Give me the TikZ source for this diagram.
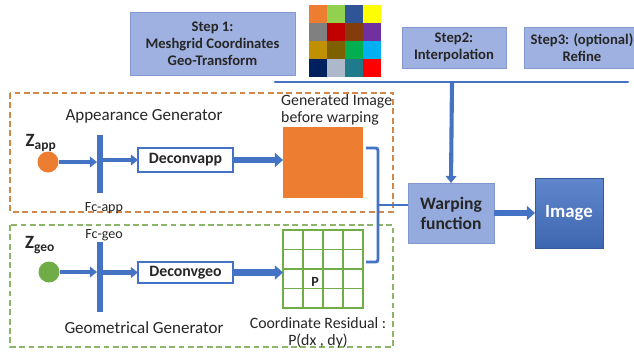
\documentclass[tikz,border=0pt]{standalone}
\usepackage{fontspec}
\setmainfont{Carlito}
\usetikzlibrary{arrows.meta,calc}
\definecolor{cblue}{HTML}{4472C4}
\definecolor{corange}{HTML}{ED7D31}
\definecolor{cgreen}{HTML}{70AD47}
\definecolor{stepfill}{HTML}{9FB1E0}
\definecolor{stepline}{HTML}{8398CF}
\definecolor{odash}{HTML}{D0894A}
\definecolor{gdash}{HTML}{8DB56A}
\definecolor{txt}{HTML}{262626}
\tikzset{
  sz/.style 2 args={minimum width={#1*0.03cm},minimum height={#2*0.03cm},inner sep=0pt,outer sep=0pt},
  stepbox/.style={draw=stepline,fill=stepfill,line width=0.6pt,align=center,font=\fontsize{12.5}{14.5}\selectfont\bfseries,text=txt},
  deconv/.style={draw=cblue,fill=white,line width=1.6pt,font=\fontsize{13.5}{15}\selectfont\bfseries,text=txt},
  fcbar/.style={fill=cblue,draw=none},
  lbl/.style={font=\fontsize{13.5}{14.5}\selectfont,text=txt,inner sep=0pt},
  biglbl/.style={font=\fontsize{14.5}{16}\selectfont,text=txt,inner sep=0pt},
  smlbl/.style={font=\fontsize{12}{13}\selectfont,text=txt,inner sep=0pt},
  zlbl/.style={font=\fontsize{16}{18}\selectfont\bfseries,text=txt,inner sep=0pt},
  thinarr/.style={draw=cblue,line width=3.5pt,-{Triangle[length=6pt,width=9pt]}},
  thickarr/.style={draw=cblue,line width=5.5pt,-{Triangle[length=7pt,width=12pt]}},
  conn/.style={draw=cblue,line width=2.5pt},
}
\begin{document}
\begin{tikzpicture}[x=0.03cm,y=-0.03cm]
\useasboundingbox (0,0) rectangle (634,351);
% top steps
\node (step1) [stepbox,sz={165}{63}] at (212.5,44) {Step 1:\\Meshgrid Coordinates\\Geo-Transform};
\node (cgrid) [sz={72}{72}] at (345,41) {};
\foreach \c [count=\i from 0] in {ED7D31,92D050,2F5597,FFFF00,808080,C00000,843C0C,7030A0,BF9000,7F6000,00B050,00B0F0,002060,ADB9CA,1F7A8C,FF0000}{
  \pgfmathtruncatemacro{\col}{mod(\i,4)}
  \pgfmathtruncatemacro{\row}{div(\i,4)}
  \definecolor{tmpc}{HTML}{\c}
  \fill[tmpc] (309+18*\col,5+18*\row) rectangle ++(18,18);
}
\node (step2) [stepbox,sz={104}{41}] at (454,47.5) {Step2:\\Interpolation};
\node (step3) [stepbox,sz={116}{41}] at (582,47.5) {Step3: (optional)\\Refine};
\coordinate (hl) at (275,82);
\coordinate (hr) at (628,82);
\coordinate (hm) at (452,82);
\draw[conn,line cap=round] (hl) -- (hr);
% dashed group boxes
\draw[odash,line width=1.2pt,dash pattern=on 5pt off 3pt] (10,93) rectangle (393,212);
\draw[gdash,line width=1.2pt,dash pattern=on 5pt off 3pt] (10,225) rectangle (393,347);
% warping & image
\node (warp) [draw=stepline,fill=stepfill!90!cblue,line width=0.8pt,sz={86}{60},align=center,font=\fontsize{15}{17}\selectfont\bfseries,text=txt] at (451,213) {Warping\\function};
\node (img) [draw=cblue!80!black,top color=cblue!85!white,bottom color=cblue!90!black,line width=0.6pt,sz={68}{70},font=\fontsize{16}{18}\selectfont\bfseries,text=white] at (569,213) {Image};
\draw[thinarr] (hm) -- (warp.north);
\draw[thickarr] (warp.east) -- (img.west);
% appearance generator
\node (apptitle) [biglbl] at (144,116) {Appearance Generator};
\node (zapp) [zlbl] at (41,143) {Z\textsubscript{\fontsize{11.5}{12}\selectfont app}};
\node (capp) [circle,fill=corange,minimum size=0.63cm,inner sep=0pt] at (48,162) {};
\node (fcapp) [fcbar,sz={6}{58}] at (100,164) {};
\node (fcapplbl) [smlbl] at (104,208) {Fc-app};
\node (dapp) [deconv,sz={95}{24}] at (185.5,160) {Deconvapp};
\node (sqapp) [fill=corange,sz={80}{71}] at (323,162.5) {};
\node (genlbl) [lbl,anchor=west,align=left] at (281,110) {Generated Image\\before warping};
\draw[thinarr] (capp.east) -- (fcapp.west |- capp.east);
\draw[thinarr] (fcapp.east |- dapp.west) -- (dapp.west);
\draw[thickarr] (dapp.east) -- (sqapp.west |- dapp.east);
% geometrical generator
\node (zgeo) [zlbl] at (40,245) {Z\textsubscript{\fontsize{11.5}{12}\selectfont geo}};
\node (cgeo) [circle,fill=cgreen,minimum size=0.63cm,inner sep=0pt] at (49,272) {};
\node (fcgeo) [fcbar,sz={6}{70}] at (100,277) {};
\node (fcgeolbl) [smlbl] at (104,235) {Fc-geo};
\node (dgeo) [deconv,sz={95}{21}] at (185.5,272.5) {Deconvgeo};
\node (rgrid) [draw=cgreen,line width=1.8pt,sz={80}{78}] at (323,269) {};
\foreach \k in {1,2,3}{
  \draw[cgreen,line width=0.9pt] ($(rgrid.north west)!\k/4!(rgrid.north east)$) -- ($(rgrid.south west)!\k/4!(rgrid.south east)$);
  \draw[cgreen,line width=0.9pt] ($(rgrid.north west)!\k/4!(rgrid.south west)$) -- ($(rgrid.north east)!\k/4!(rgrid.south east)$);
}
\node (plbl) [font=\fontsize{12}{14}\selectfont\bfseries,text=txt] at (315,282) {P};
\node (geotitle) [biglbl] at (144,328) {Geometrical Generator};
\node (reslbl) [lbl,align=center] at (318,332.5) {Coordinate Residual :\\P(dx , dy)};
\draw[thinarr] (cgeo.east) -- (fcgeo.west |- cgeo.east);
\draw[thinarr] (fcgeo.east |- dgeo.west) -- (dgeo.west);
\draw[thickarr] (dgeo.east) -- (rgrid.west |- dgeo.east);
% bracket to warping
\coordinate (bt) at (378,148);
\coordinate (bb) at (378,262);
\coordinate (bm) at (378,205);
\draw[conn,rounded corners=2pt] (366,148) -- (bt) -- (bb) -- (366,262);
\draw[conn] (bm) -- (warp.west |- bm);
\end{tikzpicture}
\end{document}
